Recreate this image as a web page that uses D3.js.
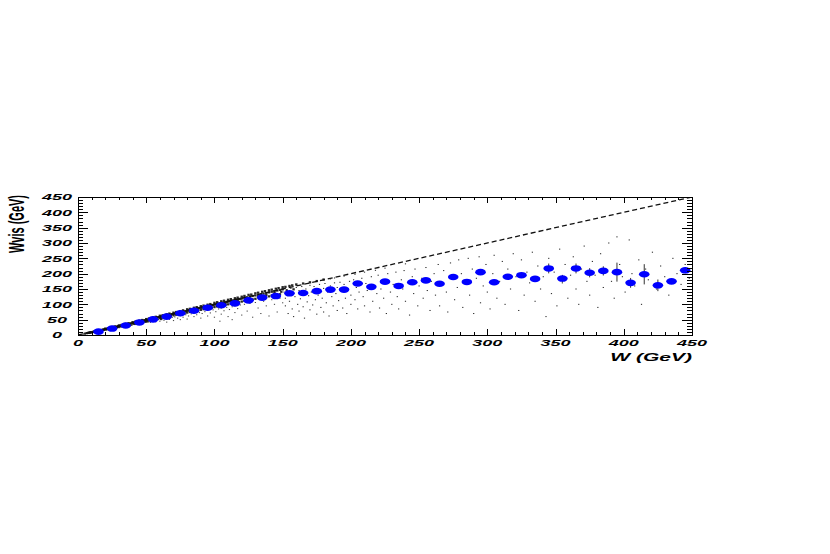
<!DOCTYPE html>
<meta charset="utf-8">
<html>
<head>
<style>
body { margin: 0; background: #fff; }
.tick line { stroke: #000; stroke-width: 1; shape-rendering: crispEdges; }
.lbl { font-family: "Liberation Sans", Arial, sans-serif; font-weight: bold; font-style: italic; fill: #000; }
</style>
</head>
<body>
<script src="https://d3js.org/d3.v7.min.js"></script>
<script>

// bin centres of W (GeV) and mean visible mass per bin
var binW = [15, 25, 35, 45, 55, 65, 75, 85, 95, 105, 115, 125, 135, 145, 155, 165, 175, 185, 195, 205, 215, 225,
            235, 245, 255, 265, 275, 285, 295, 305, 315, 325, 335, 345, 355, 365, 375, 385, 395, 405, 415, 425, 435, 445];
var meanWvis = [11, 21, 31, 41, 51, 60, 71, 79, 89, 97, 103, 113, 122, 127, 136, 137, 143, 148, 148, 168, 157, 174,
                160, 172, 178, 167, 189, 173, 205, 172, 190, 195, 183, 217, 184, 217, 203, 209, 205, 170, 198, 162, 175, 211];
var errWvis = [1, 1, 1, 1, 1, 1, 1, 1, 1, 1, 1, 2, 2, 2, 2, 2, 3, 3, 3, 3, 4, 4,
               4, 4, 5, 5, 5, 6, 6, 6, 7, 7, 8, 16, 12, 16, 15, 15, 31, 16, 33, 19, 8, 10];

var xTicks = [0, 50, 100, 150, 200, 250, 300, 350, 400, 450];
var yTicks = [0, 50, 100, 150, 200, 250, 300, 350, 400, 450];

// individual events (W, Wvis)
var bandEvents = [
 [4,3],[5,4.5],[6,5],[6.5,6],[7,5.5],[7.5,7],[8,7],[8.5,8],[9,8],[9.5,9],[10,9],[10.5,8],[11,10],[11.5,10.5],[12,11],[12.5,9],
 [13,12],[13.5,12.5],[14,13],[14.5,12],[15,14],[15.5,13],[16,15],[16.5,14.5],[17,16],[17.5,14],[18,17],[18.5,16.5],[19,18],
 [19.5,15],[20,19],[20.5,18],[21,20],[21.5,19],[22,21],[22.5,17],[23,22],[23.5,21],[24,23],[24.5,20],[25,24],[25.5,22],
 [26,25],[26.5,23],[27,26],[27.5,21],[28,27],[28.5,25],[29,28],[29.5,26],[30,29],[30.5,24],[31,30],[31.5,28],[32,31],
 [32.5,29],[33,32],[33.5,27],[34,33],[34.5,31],[35,34],[35.5,30],[36,35],[36.5,33],[37,36],[37.5,32],[38,37],[38.5,34],
 [39,38],[39.5,31],[40,39],[40.5,37],[41,40],[41.5,36],[42,41],[42.5,38],[43,42],[43.5,35],[44,43],[44.5,40],[45,44],
 [45.5,39],[46,45],[46.5,42],[47,46],[47.5,37],[48,47],[48.5,44],[49,48],[49.5,43],
 [50,49],[50,46],[51,50],[51,44],[52,51],[52,48],[53,52],[53,41],[54,53],[54,49],[55,54],[55,47],[56,55],[56,50],[57,56],
 [57,43],[58,57],[58,53],[59,58],[59,50],[60,59],[60,55],[60,45],[61,60],[61,52],[62,61],[62,57],[63,62],[63,48],[64,63],
 [64,58],[65,64],[65,55],[65,42],[66,65],[66,60],[67,66],[67,51],[68,67],[68,62],[69,68],[69,57],[70,69],[70,64],[70,47],
 [71,70],[71,59],[72,71],[72,66],[73,72],[73,55],[74,73],[74,68],[75,74],[75,63],[75,50],[76,75],[76,69],[77,76],[77,58],
 [78,77],[78,71],[79,78],[79,66],[80,79],[80,73],[80,52],[81,80],[81,62],[82,81],[82,75],[83,82],[83,69],[84,83],[84,77],
 [85,84],[85,60],[85,72],[86,85],[86,78],[87,86],[87,66],[88,87],[88,80],[89,88],[89,73],[90,89],[90,82],[90,55],[91,90],
 [91,70],[92,91],[92,84],[93,92],[93,76],[94,93],[94,86],[95,94],[95,62],[95,80],[96,95],[96,88],[97,96],[97,72],[98,97],
 [98,89],[99,98],[99,82],[100,99],[100,91],[100,58],[101,100],[101,76],[102,101],[102,93],[103,102],[103,85],[104,103],
 [104,95],[104,45],[105,104],[105,68],[105,88],[106,105],[106,96],[107,106],[107,79],[108,107],[108,98],[109,108],[109,90],
 [110,109],[110,100],[110,60],[111,110],[111,83],[112,111],[112,102],[113,112],[113,92],[113,50],[114,113],[114,104],
 [115,114],[115,73],[115,95],[116,115],[116,105],[117,116],[117,86],[118,117],[118,107],[119,118],[119,98],[120,119],
 [120,109],[120,65],[122,121],[122,100],[122,111],[124,123],[124,78],[124,113],[126,125],[126,103],[128,127],[128,116],
 [128,58],[130,129],[130,106],[130,118],[132,131],[132,88],[134,133],[134,121],[134,70],[136,135],[136,110],[136,124],
 [138,137],[138,95],[140,139],[140,126],[140,62],[142,141],[142,115],[142,129],[144,143],[144,100],[146,145],[146,131],
 [146,75],[148,147],[148,120],[148,133],[150,149],[150,105],
 // events reconstructed slightly above the true W
 [20,21],[22,22.5],[25,26],[27,28],[30,31.5],[32,33],[35,36.5],[37,38.5],[40,42],[42,43.5],[45,47],[47,49],[50,52],
 [52,54],[55,57.5],[57,59.5],[60,63],[62,64.5],[65,68],[67,70],[70,73],[72,75],[75,78],[77,80.5],[80,84],[82,85.5],
 [85,89],[87,91],[90,94],[92,96],[95,99],[97,101],[100,105],[102,107],[105,110],[107,112],[110,115],[112,117],[115,120],
 [117,122],[120,125],[122,127.5],[125,131],[127,132],[130,136],[132,138],[135,141],[137,143],[140,146],[142,148],
 [145,151],[147,153],[150,156],[152,157],[155,160],[157,162],[160,165],[165,168],[170,172],[175,176],[180,181],
 [102,95],[108,102],[117,110],[123,117],[132,124],[138,130],[144,137],[149,141],[153,145],[158,149]
];
var sparseEvents = [
 [151,140],[152,120],[152,95],[153,148],[154,70],[155,132],[155,110],[156,152],[157,85],[158,138],[158,60],[159,125],
 [160,155],[161,100],[162,145],[162,78],[163,118],[164,158],[165,92],[165,135],[166,55],[167,150],[168,108],[169,128],
 [170,162],[170,82],[171,140],[172,98],[173,158],[174,115],[175,68],[175,148],[176,130],[177,165],[178,90],[179,120],
 [180,152],[180,75],[181,168],[182,105],[183,140],[184,62],[185,160],[186,125],[187,95],[188,170],[189,135],[190,80],
 [190,155],[191,112],[192,172],[193,145],[194,88],[195,165],[196,120],[197,70],[198,150],[199,175],[200,100],[200,130],
 [160,162],[170,170],[185,183],[195,192],[210,205],[225,218],[240,232],[188,186],[203,198],[218,211],
 [202,180],[203,115],[204,155],[205,85],[206,140],[208,185],[209,125],[210,95],[211,168],[212,145],[214,75],[215,190],
 [216,110],[217,160],[219,135],[220,195],[221,88],[222,150],[224,120],[225,178],[226,70],[227,200],[229,140],[230,100],
 [231,165],[233,205],[234,125],[235,85],[237,180],[238,150],[239,210],[240,110],[242,170],[243,65],[245,190],[246,135],
 [247,215],[249,95],[250,160],[252,185],[253,120],[255,220],[256,145],[258,80],[259,175],
 [261,200],[262,130],[264,230],[265,95],[267,165],[268,210],[270,140],[271,75],[273,235],[274,185],[276,115],[278,155],
 [279,245],[281,200],[282,90],[284,170],[286,250],[287,130],[289,215],[290,70],[292,185],[294,255],[295,105],[297,160],
 [299,230],[300,140],[302,85],[304,200],[305,260],[307,120],[309,175],[311,240],[313,100],[315,215],[317,150],[319,265],
 [321,190],[323,80],[325,245],[327,130],[329,205],[331,170],[333,270],[335,110],[337,225],[339,150],[341,190],[343,60],
 [345,250],[347,135],[349,205],[351,95],[353,280],[355,170],[357,230],[359,120],[361,195],[363,255],[365,150],[367,100],
 [369,215],[371,290],[373,175],[375,130],[377,240],[379,195],[381,90],[383,265],[385,155],[387,215],[389,300],[391,175],
 [393,120],[395,320],[397,230],[399,190],[401,140],[404,310],[406,200],[408,160],[411,245],[413,100],[416,215],[418,180],
 [421,270],[424,150],[427,225],[430,190],[433,130],[436,250],[439,200],[442,165],[445,230],[448,185]
];

var W = 830, H = 554;
var frameL = 78, frameR = 692, frameT = 197, frameB = 335;
var STRETCH = 2;   // the whole picture is drawn twice as wide as tall

var svg = d3.select("body").append("svg")
  .attr("width", W).attr("height", H);

var x = d3.scaleLinear().domain([0, 450]).range([frameL, frameR]);
var y = d3.scaleLinear().domain([0, 450]).range([frameB, frameT]);

svg.append("clipPath").attr("id", "frame")
  .append("rect").attr("x", frameL).attr("y", frameT).attr("width", frameR - frameL).attr("height", frameB - frameT);

var plot = svg.append("g").attr("clip-path", "url(#frame)");

// Wvis = W line, drawn first so the event band covers it at low W
plot.append("line")
  .attr("x1", x(0)).attr("y1", y(0)).attr("x2", x(450)).attr("y2", y(450))
  .attr("stroke", "#111").attr("stroke-width", 1.3).attr("stroke-dasharray", "5,3");

// scatter of events: the crowded core near the diagonal piles up into a black band
function isCore(d) { return d[1] > 0.85 * d[0]; }

plot.selectAll(".band")
  .data(bandEvents)
  .enter().append("rect")
  .attr("class", "band")
  .attr("x", function(d) { return x(d[0]) - (isCore(d) ? 1.2 : 0.6); })
  .attr("y", function(d) { return y(d[1]) - (isCore(d) ? 1.1 : 0.5); })
  .attr("width", function(d) { return isCore(d) ? 2.4 : 1.2; })
  .attr("height", function(d) { return isCore(d) ? 2.2 : 1; })
  .attr("fill", "#111").attr("fill-opacity", function(d) { return isCore(d) ? 0.9 : 0.8; });

plot.selectAll(".ev")
  .data(sparseEvents)
  .enter().append("rect")
  .attr("class", "ev")
  .attr("x", function(d) { return x(d[0]) - 0.6; })
  .attr("y", function(d) { return y(d[1]) - 0.5; })
  .attr("width", 1.2).attr("height", 1)
  .attr("fill", "#222");

// error bars and mean markers
var prof = binW.map(function(w, i) { return {w: w, v: meanWvis[i], e: errWvis[i]}; });

plot.selectAll(".err")
  .data(prof)
  .enter().append("line")
  .attr("class", "err")
  .attr("x1", function(d) { return x(d.w); }).attr("x2", function(d) { return x(d.w); })
  .attr("y1", function(d) { return y(d.v - d.e); }).attr("y2", function(d) { return y(d.v + d.e); })
  .attr("stroke", "#333").attr("stroke-width", 1);

plot.selectAll(".pt")
  .data(prof)
  .enter().append("ellipse")
  .attr("class", "pt")
  .attr("cx", function(d) { return x(d.w); })
  .attr("cy", function(d) { return y(d.v); })
  .attr("rx", 5.3).attr("ry", 3.3)
  .attr("fill", "#0000ff");

// frame and ticks
var minor = d3.range(0, 451, 10);

function ticks(axis, values, size, tx, ty) {
  var g = svg.append("g")
    .attr("transform", "translate(" + tx + "," + ty + ")")
    .call(axis.tickValues(values).tickSizeInner(size).tickSizeOuter(0).tickFormat(""));
  g.select(".domain").remove();
}
ticks(d3.axisBottom(x), minor, -3, 0, frameB);
ticks(d3.axisBottom(x), xTicks, -6, 0, frameB);
ticks(d3.axisTop(x), minor, -3, 0, frameT);
ticks(d3.axisTop(x), xTicks, -6, 0, frameT);
ticks(d3.axisLeft(y), minor, -5, frameL, 0);
ticks(d3.axisLeft(y), yTicks, -10, frameL, 0);
ticks(d3.axisRight(y), minor, -5, frameR, 0);
ticks(d3.axisRight(y), yTicks, -10, frameR, 0);

svg.append("rect")
  .attr("x", frameL).attr("y", frameT).attr("width", frameR - frameL).attr("height", frameB - frameT)
  .attr("fill", "none").attr("stroke", "#000").attr("stroke-width", 1)
  .attr("shape-rendering", "crispEdges");

// tick labels
svg.selectAll(".xl")
  .data(xTicks)
  .enter().append("text")
  .attr("class", "lbl xl")
  .attr("transform", function(d) { return "translate(" + x(d) + "," + (frameB + 11) + ") scale(" + STRETCH + ",1)"; })
  .attr("text-anchor", "middle")
  .attr("font-size", 9)
  .text(function(d) { return d; });

svg.selectAll(".yl")
  .data(yTicks)
  .enter().append("text")
  .attr("class", "lbl yl")
  .attr("transform", function(d) { return "translate(57," + (y(d) + 3.3) + ") scale(" + STRETCH + ",1)"; })
  .attr("text-anchor", "middle")
  .attr("font-size", 9)
  .text(function(d) { return d; });

// axis titles
svg.append("text")
  .attr("class", "lbl")
  .attr("transform", "translate(" + frameR + ",361) scale(" + STRETCH + ",1)")
  .attr("text-anchor", "end")
  .attr("font-size", 10.5)
  .text("W (GeV)");

svg.append("text")
  .attr("class", "lbl")
  .style("font-style", "normal")
  .attr("transform", "translate(24,224) scale(" + STRETCH + ",1) rotate(-90)")
  .attr("text-anchor", "middle")
  .attr("font-size", 11)
  .text("Wvis (GeV)");

</script>
</body>
</html>
